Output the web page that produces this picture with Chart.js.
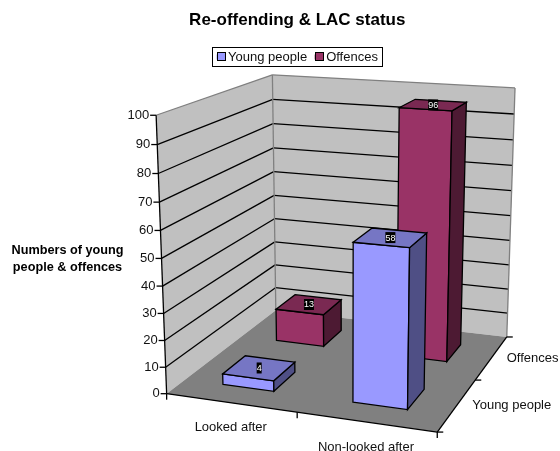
<!DOCTYPE html>
<html>
<head>
<meta charset="utf-8">
<style>
  html, body { margin: 0; padding: 0; background: #fff; }
  canvas { display: block; }
</style>
<script src="https://cdn.jsdelivr.net/npm/chart.js@4/dist/chart.umd.min.js"></script>
</head>
<body>
<canvas id="chart" width="560" height="451"></canvas>
<script>
const CATEGORIES = ['Looked after', 'Non-looked after'];
const SERIES = ['Young people', 'Offences'];
const YOUNG_PEOPLE = [4, 58];
const OFFENCES = [13, 96];
const TITLE = 'Re-offending & LAC status';
const AXIS_TITLE = ['Numbers of young', 'people & offences'];

const FONT = '"Liberation Sans", Arial, sans-serif';
const FACES = [
  { front: '#9999ff', side: '#4f4f85', top: '#7676c4' },
  { front: '#993366', side: '#4d1a33', top: '#7a2952' },
];
const BAR_SIZE = 0.4; // share of a category cell

// where the corners of the plot box land on the page: [u, v, w, x, y]
const CORNERS = [
  [0, 0, 0, 167, 394],
  [1, 0, 0, 437, 432],
  [1, 1, 0, 507, 337],
  [0, 1, 0, 275.5, 310],
  [0, 0, 1, 156, 115],
  [0, 1, 1, 272.5, 75],
  [1, 1, 1, 515, 88],
];

function solveCamera(points) {
  const rows = [];
  points.forEach(([u, v, w, x, y]) => {
    rows.push([u, v, w, 1, 0, 0, 0, 0, -x * u, -x * v, -x * w, x]);
    rows.push([0, 0, 0, 0, u, v, w, 1, -y * u, -y * v, -y * w, y]);
  });
  const n = 11;
  const a = [];
  for (let i = 0; i < n; i++) {
    a[i] = [];
    for (let j = 0; j <= n; j++) {
      a[i][j] = rows.reduce((sum, r) => sum + r[i] * r[j], 0);
    }
  }
  for (let i = 0; i < n; i++) {
    let p = i;
    for (let k = i + 1; k < n; k++) if (Math.abs(a[k][i]) > Math.abs(a[p][i])) p = k;
    [a[i], a[p]] = [a[p], a[i]];
    for (let k = 0; k < n; k++) {
      if (k === i) continue;
      const f = a[k][i] / a[i][i];
      for (let j = i; j <= n; j++) a[k][j] -= f * a[i][j];
    }
  }
  return a.map((r, i) => r[n] / r[i]);
}

const cam = solveCamera(CORNERS);

function project(u, v, w) {
  const d = cam[8] * u + cam[9] * v + cam[10] * w + 1;
  return {
    x: (cam[0] * u + cam[1] * v + cam[2] * w + cam[3]) / d,
    y: (cam[4] * u + cam[5] * v + cam[6] * w + cam[7]) / d,
  };
}

function poly(ctx, pts, fill, stroke, width) {
  ctx.beginPath();
  pts.forEach((p, i) => (i ? ctx.lineTo(p.x, p.y) : ctx.moveTo(p.x, p.y)));
  ctx.closePath();
  if (fill) {
    ctx.fillStyle = fill;
    ctx.fill();
  }
  if (stroke) {
    ctx.strokeStyle = stroke;
    ctx.lineWidth = width || 1;
    ctx.stroke();
  }
}

function line(ctx, a, b, color, width) {
  ctx.beginPath();
  ctx.moveTo(a.x, a.y);
  ctx.lineTo(b.x, b.y);
  ctx.strokeStyle = color;
  ctx.lineWidth = width || 1;
  ctx.stroke();
}

function drawBox(ctx, scales) {
  const { y } = scales;
  const wall = '#c0c0c0';
  poly(ctx, [project(0, 0, 0), project(0, 1, 0), project(0, 1, 1), project(0, 0, 1)], wall);
  poly(ctx, [project(0, 1, 0), project(1, 1, 0), project(1, 1, 1), project(0, 1, 1)], wall);
  poly(ctx, [project(0, 0, 0), project(1, 0, 0), project(1, 1, 0), project(0, 1, 0)], '#808080');

  y.ticks.forEach((tick) => {
    const w = y.getDecimalForPixel(y.getPixelForValue(tick.value));
    if (w > 0 && w < 1) {
      line(ctx, project(0, 0, w), project(0, 1, w), '#000', 1.3);
      line(ctx, project(0, 1, w), project(1, 1, w), '#000', 1.3);
    }
  });

  const edge = '#808080';
  line(ctx, project(0, 0, 1), project(0, 1, 1), edge, 1.3);
  line(ctx, project(0, 1, 1), project(1, 1, 1), edge, 1.3);
  line(ctx, project(1, 1, 1), project(1, 1, 0), edge, 1.3);
  line(ctx, project(0, 1, 0), project(0, 1, 1), edge, 1.3);
}

function drawAxes(ctx, scales) {
  const { x, y } = scales;
  ctx.fillStyle = '#111';
  ctx.font = '13px ' + FONT;
  ctx.textBaseline = 'middle';

  // value axis
  line(ctx, project(0, 0, 0), project(0, 0, 1), '#000', 1.3);
  ctx.textAlign = 'right';
  y.ticks.forEach((tick) => {
    const w = y.getDecimalForPixel(y.getPixelForValue(tick.value));
    const p = project(0, 0, w);
    line(ctx, { x: p.x - 6, y: p.y }, p, '#000', 1.3);
    ctx.fillStyle = '#111';
    ctx.fillText(String(tick.value), p.x - 7, p.y);
  });

  // category axis
  line(ctx, project(0, 0, 0), project(1, 0, 0), '#000', 1.3);
  for (let i = 0; i <= CATEGORIES.length; i++) {
    const p = project(i / CATEGORIES.length, 0, 0);
    line(ctx, p, { x: p.x, y: p.y + 6 }, '#000', 1.3);
  }
  ctx.textAlign = 'center';
  ctx.fillStyle = '#111';
  CATEGORIES.forEach((name, i) => {
    const p = project(x.getDecimalForPixel(x.getPixelForValue(i)), 0, 0);
    ctx.fillText(name, p.x, p.y + 25);
  });

  // depth axis
  line(ctx, project(1, 0, 0), project(1, 1, 0), '#000', 1.3);
  for (let i = 0; i <= SERIES.length; i++) {
    const p = project(1, i / SERIES.length, 0);
    line(ctx, p, { x: p.x + 6, y: p.y }, '#000', 1.3);
  }
  ctx.textAlign = 'left';
  ctx.fillStyle = '#111';
  SERIES.forEach((name, i) => {
    const p = project(1, (i + 0.5) / SERIES.length, 0);
    ctx.fillText(name, p.x + 15, p.y + 1);
  });

  // value axis title stays horizontal
  ctx.font = 'bold 12.7px ' + FONT;
  ctx.textAlign = 'center';
  ctx.fillStyle = '#000';
  AXIS_TITLE.forEach((text, i) => ctx.fillText(text, 67.5, 250 + i * 17));
}

function drawBars(ctx, chart) {
  const { x, y, depth } = chart.scales;
  const du = (BAR_SIZE / CATEGORIES.length) / 2;
  const dv = (BAR_SIZE / SERIES.length) / 2;
  // back row first so the front row covers it
  for (let s = SERIES.length - 1; s >= 0; s--) {
    const vc = depth.getDecimalForPixel(depth.getPixelForValue(s));
    const face = FACES[s];
    chart.data.datasets[s].data.forEach((value, i) => {
      const uc = x.getDecimalForPixel(x.getPixelForValue(i));
      const w = y.getDecimalForPixel(y.getPixelForValue(value));
      const u0 = uc - du, u1 = uc + du, v0 = vc - dv, v1 = vc + dv;
      poly(ctx, [project(u0, v0, 0), project(u1, v0, 0), project(u1, v0, w), project(u0, v0, w)], face.front, '#000', 1.3);
      poly(ctx, [project(u1, v0, 0), project(u1, v1, 0), project(u1, v1, w), project(u1, v0, w)], face.side, '#000', 1.3);
      poly(ctx, [project(u0, v0, w), project(u1, v0, w), project(u1, v1, w), project(u0, v1, w)], face.top, '#000', 1.3);
      const c = project(uc, vc, w);
      ctx.font = '9px ' + FONT;
      const tw = ctx.measureText(String(value)).width;
      ctx.fillStyle = '#000';
      ctx.fillRect(c.x - tw / 2, c.y - 5.5, tw, 11);
      ctx.fillStyle = '#fff';
      ctx.textAlign = 'center';
      ctx.textBaseline = 'middle';
      ctx.fillText(String(value), c.x, c.y + 0.5);
    });
  }
}

const box3d = {
  id: 'box3d',
  beforeDatasetsDraw(chart) {
    const ctx = chart.ctx;
    ctx.save();
    drawBox(ctx, chart.scales);
    drawAxes(ctx, chart.scales);
    drawBars(ctx, chart);
    ctx.restore();
    return false; // bars are painted above as boxes
  },
  afterDraw(chart) {
    const boxes = chart.legend.legendHitBoxes;
    const left = Math.min(...boxes.map((b) => b.left)) - 4.5;
    const right = Math.max(...boxes.map((b) => b.left + b.width)) + 4.5;
    const mid = boxes[0].top + boxes[0].height / 2;
    const ctx = chart.ctx;
    ctx.save();
    ctx.strokeStyle = '#000';
    ctx.lineWidth = 1;
    ctx.strokeRect(Math.round(left) + 0.5, Math.round(mid - 10) + 0.5, Math.round(right - left), 19);
    // legend swatches sit closer to the text than the library's spacing allows
    boxes.forEach((b, s) => {
      ctx.fillStyle = FACES[s].front;
      ctx.fillRect(Math.round(b.left) + 0.5, Math.round(mid - 5) + 0.5, 8, 8);
      ctx.strokeRect(Math.round(b.left) + 0.5, Math.round(mid - 5) + 0.5, 8, 8);
    });
    ctx.restore();
  },
};

new Chart(document.getElementById('chart'), {
  type: 'bar',
  data: {
    labels: CATEGORIES,
    datasets: [
      { label: SERIES[0], data: YOUNG_PEOPLE, backgroundColor: FACES[0].front, borderColor: FACES[0].front, borderWidth: 0 },
      { label: SERIES[1], data: OFFENCES, backgroundColor: FACES[1].front, borderColor: FACES[1].front, borderWidth: 0 },
    ],
  },
  plugins: [box3d],
  options: {
    responsive: false,
    animation: false,
    layout: { padding: { left: 34.5, top: 10, right: 0, bottom: 0 } },
    plugins: {
      tooltip: { enabled: false },
      title: {
        display: true,
        text: TITLE,
        color: '#000',
        font: { family: FONT, size: 17, weight: 'bold' },
        padding: { top: 0, bottom: 12.6 },
      },
      legend: {
        display: true,
        position: 'top',
        onClick: null,
        labels: {
          color: '#111',
          font: { family: FONT, size: 13 },
          boxWidth: 5,
          boxHeight: 5,
          padding: 7.5,
        },
      },
    },
    scales: {
      x: { display: false },
      depth: { axis: 'x', type: 'category', labels: SERIES, display: false, offset: true },
      y: {
        min: 0,
        max: 100,
        grid: { display: false },
        border: { display: false },
        ticks: { display: false, stepSize: 10, autoSkip: false },
      },
    },
  },
});
</script>
</body>
</html>
